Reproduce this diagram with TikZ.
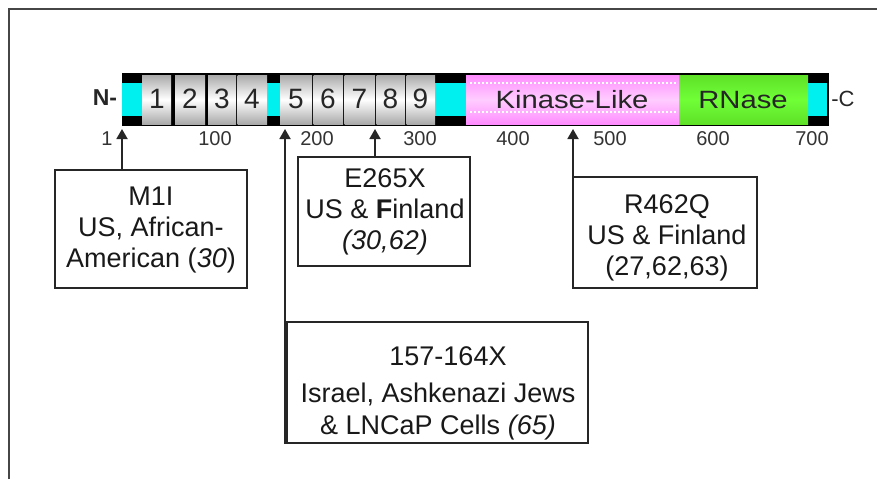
\documentclass[tikz,border=0pt]{standalone}
\usepackage{fontspec}
\setmainfont{Liberation Sans}
\usetikzlibrary{arrows.meta}
\definecolor{cyanseg}{RGB}{0,240,240}
\definecolor{pinkdark}{RGB}{255,140,255}
\definecolor{pinklight}{RGB}{255,205,255}
\definecolor{greendark}{RGB}{95,225,40}
\definecolor{greenlight}{RGB}{112,255,55}
\definecolor{segdark}{RGB}{170,170,170}
\definecolor{frameline}{RGB}{70,70,70}
\begin{document}
\begin{tikzpicture}[x=1pt,y=-1pt,
  mutbox/.style={draw=black!85, line width=1.8pt, fill=white, inner sep=0pt, rectangle},
  boxtext/.style={align=center, inner sep=0pt, font=\fontsize{27}{31}\selectfont, text=black!90},
  mutarrow/.style={-{Triangle[width=11pt,length=10pt]}, line width=1.8pt, draw=black!85},
  digit/.style={font=\fontsize{28}{30}\selectfont, inner sep=0pt, text=black!85},
  domlabel/.style={font=\fontsize{25}{28}\selectfont, inner sep=0pt, text=black!85},
  tick/.style={font=\fontsize{20}{22}\selectfont, inner sep=0pt, text=black!80},
  grayseg/.style={top color=segdark, bottom color=segdark, middle color=white},
  cyanpart/.style={fill=cyanseg}]
\useasboundingbox (0,0) rectangle (877,479);
% frame
\draw[line width=2.2pt, frameline] (9,479) -- (9,9) -- (877,9);

% bar background
\fill[black] (122,73) rectangle (829,126);
% cyan parts
\fill[cyanpart] (122,83) rectangle (142,116);
\fill[cyanpart] (267,83) rectangle (280,116);
\fill[cyanpart] (435,83) rectangle (466,116);
\fill[cyanpart] (808,83) rectangle (827,116);
% gray repeat segments
\shade[grayseg] (142,75) rectangle (171,124);
\shade[grayseg] (175,75) rectangle (205,124);
\shade[grayseg] (208,75) rectangle (236,124);
\shade[grayseg] (237.5,75) rectangle (267,124);
\shade[grayseg] (280,75) rectangle (312,124);
\shade[grayseg] (313.5,75) rectangle (343,124);
\shade[grayseg] (344.5,75) rectangle (375,124);
\shade[grayseg] (376.5,75) rectangle (405,124);
\shade[grayseg] (406.5,75) rectangle (435,124);
% kinase-like
\shade[top color=pinkdark, bottom color=pinkdark, middle color=pinklight] (466,75) rectangle (679,124);
\draw[white, line width=1.2pt, dash pattern=on 2pt off 2pt] (470,83) -- (676,83);
\draw[white, line width=1.2pt, dash pattern=on 2pt off 2pt] (470,112) -- (676,112);
% RNase
\shade[top color=greendark, bottom color=greendark, middle color=greenlight] (679,75) rectangle (808,124);

% segment labels
\node[digit] (d1) at (157,99) {1};
\node[digit] (d2) at (190,99) {2};
\node[digit] (d3) at (222,99) {3};
\node[digit] (d4) at (252,99) {4};
\node[digit] (d5) at (296,99) {5};
\node[digit] (d6) at (328,99) {6};
\node[digit] (d7) at (359.5,99) {7};
\node[digit] (d8) at (390.5,99) {8};
\node[digit] (d9) at (420.5,99) {9};
\node[domlabel] (kin) at (572,100) {\scalebox{1.17}[1]{Kinase-Like}};
\node[domlabel] (rna) at (743,100) {\scalebox{1.17}[1]{RNase}};
\node[font=\fontsize{23}{25}\selectfont\bfseries, inner sep=0pt, text=black!85] (nterm) at (105,98) {N-};
\node[font=\fontsize{22}{24}\selectfont, inner sep=0pt, text=black!85] (cterm) at (843,99) {-C};

% scale labels
\node[tick] (s1) at (107,139) {1};
\node[tick] (s100) at (215,139) {100};
\node[tick] (s200) at (317,139) {200};
\node[tick] (s300) at (420,139) {300};
\node[tick] (s400) at (513,139) {400};
\node[tick] (s500) at (610,139) {500};
\node[tick] (s600) at (713,139) {600};
\node[tick] (s700) at (812,139) {700};

% mutation boxes
\node[mutbox, minimum width=192pt, minimum height=118pt] (bM1I) at (151,229) {};
\node[mutbox, minimum width=172pt, minimum height=109pt] (bE265X) at (384,211.5) {};
\node[mutbox, minimum width=184pt, minimum height=111pt] (bR462Q) at (665,232.5) {};
\node[mutbox, minimum width=301pt, minimum height=121pt] (b157) at (437.5,382.5) {};

\node[boxtext] (tM1I) at (151,230) {M1I\\US, African-\\American (\textit{30})};
\node[boxtext] (tE265X) at (385,212) {E265X\\US \& \textbf{F}inland\\\textit{(30,62)}};
\node[boxtext] (tR462Q) at (667,238) {R462Q\\US \& Finland\\(27,62,63)};
\node[boxtext] (t157a) at (448,356) {157-164X};
\node[boxtext, font=\fontsize{27}{32}\selectfont] (t157b) at (438,412) {Israel, Ashkenazi Jews\\\& LNCaP Cells \textit{(65)}};

% arrow tips
\coordinate (pM1I) at (122,129);
\coordinate (p157) at (285,129);
\coordinate (pE265X) at (375,129);
\coordinate (pR462Q) at (573,129);

\draw[mutarrow] (pM1I |- bM1I.north) -- (pM1I);
\draw[mutarrow] (p157 |- b157.south) -- (p157);
\draw[mutarrow] (pE265X |- bE265X.north) -- (pE265X);
\draw[mutarrow] (pR462Q |- bR462Q.north) -- (pR462Q);
\end{tikzpicture}
\end{document}
